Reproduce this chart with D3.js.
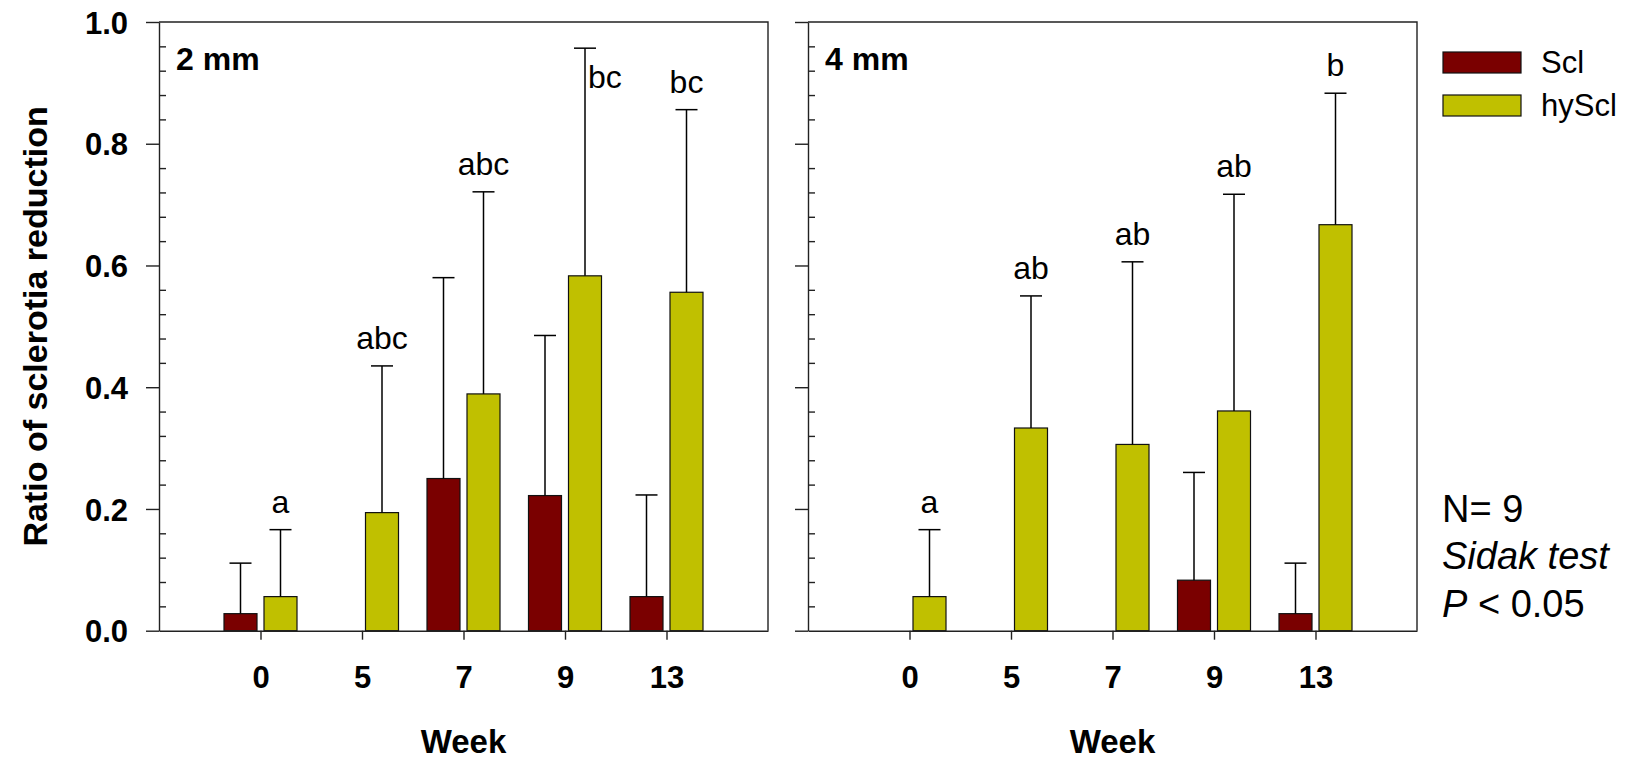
<!DOCTYPE html>
<html>
<head>
<meta charset="utf-8">
<script src="https://cdn.jsdelivr.net/npm/d3@7"></script>
<style>
  body { margin: 0; background: #fff; }
  svg text { font-family: Arial, "Liberation Sans", sans-serif; fill: #000; }
</style>
</head>
<body>
<script>
// categories and series
var weeks  = ['0', '5', '7', '9', '13'];
var series = ['Scl', 'hyScl'];

// 2 mm panel: means and upper error (mean + err = cap)
var scl2mm      = [0.028, null, 0.250, 0.222, 0.056];
var scl2mmErr   = [0.083, null, 0.330, 0.263, 0.167];
var hyScl2mm    = [0.056, 0.194, 0.389, 0.583, 0.556];
var hyScl2mmErr = [0.110, 0.241, 0.332, 0.374, 0.300];
var letters2mm  = ['a', 'abc', 'abc', 'bc', 'bc'];

// 4 mm panel
var scl4mm      = [null, null, null, 0.083, 0.028];
var scl4mmErr   = [null, null, null, 0.177, 0.083];
var hyScl4mm    = [0.056, 0.333, 0.306, 0.361, 0.667];
var hyScl4mmErr = [0.110, 0.217, 0.300, 0.356, 0.216];
var letters4mm  = ['a', 'ab', 'ab', 'ab', 'b'];

var yTicks = [0, 0.2, 0.4, 0.6, 0.8, 1.0];
var notes  = ['N= 9', 'Sidak test', 'P < 0.05'];

var COLORS = { Scl: '#7a0000', hyScl: '#c0c000' };

var WIDTH = 1648, HEIGHT = 760;
var TOP = 22, BOTTOM = 630.7, PANEL_W = 609;
var FONT_TICK = 31;

var panels = [
  { label: '2 mm', left: 159, scl: scl2mm, sclErr: scl2mmErr, hy: hyScl2mm, hyErr: hyScl2mmErr, letters: letters2mm, yLabels: true },
  { label: '4 mm', left: 808, scl: scl4mm, sclErr: scl4mmErr, hy: hyScl4mm, hyErr: hyScl4mmErr, letters: letters4mm, yLabels: false }
];

var svg = d3.select('body').append('svg')
  .attr('width', WIDTH)
  .attr('height', HEIGHT);

var y = d3.scaleLinear().domain([0, 1]).range([BOTTOM, TOP]);
var minorTicks = d3.range(0, 26).filter(function(i) { return i % 5 !== 0; })
                   .map(function(i) { return i * 0.04; });

panels.forEach(function(p) {
  var g = svg.append('g').attr('transform', 'translate(' + p.left + ',0)');

  var x = d3.scalePoint().domain(weeks).range([0, PANEL_W]).padding(1);
  var xs = d3.scaleBand().domain(series).range([-36.5, 36.5]).paddingInner(0.175);

  // bars
  var groups = g.selectAll('.grp')
    .data(weeks.map(function(w, i) {
      return { week: w, i: i, items: [
        { key: 'Scl', v: p.scl[i], e: p.sclErr[i] },
        { key: 'hyScl', v: p.hy[i], e: p.hyErr[i], letter: p.letters[i] }
      ].filter(function(d) { return d.v !== null; }) };
    }))
    .enter().append('g')
    .attr('transform', function(d) { return 'translate(' + x(d.week) + ',0)'; });

  var items = groups.selectAll('.item')
    .data(function(d) { return d.items; })
    .enter().append('g');

  items.append('rect')
    .attr('x', function(d) { return xs(d.key); })
    .attr('width', xs.bandwidth())
    .attr('y', function(d) { return y(d.v); })
    .attr('height', function(d) { return BOTTOM - y(d.v); })
    .attr('fill', function(d) { return COLORS[d.key]; })
    .attr('stroke', '#111')
    .attr('stroke-width', 1.2);

  // upper error whiskers
  var cx = function(d) { return xs(d.key) + xs.bandwidth() / 2; };
  items.append('line')
    .attr('x1', cx).attr('x2', cx)
    .attr('y1', function(d) { return y(d.v); })
    .attr('y2', function(d) { return y(d.v + d.e); })
    .attr('stroke', '#000').attr('stroke-width', 1.5);
  items.append('line')
    .attr('x1', function(d) { return cx(d) - 11; })
    .attr('x2', function(d) { return cx(d) + 11; })
    .attr('y1', function(d) { return y(d.v + d.e); })
    .attr('y2', function(d) { return y(d.v + d.e); })
    .attr('stroke', '#000').attr('stroke-width', 1.5);

  // significance letters: above the cap, or beside the whisker if no room
  items.filter(function(d) { return d.letter; })
    .append('text')
    .attr('font-size', 32)
    .each(function(d) {
      var cap = y(d.v + d.e);
      var t = d3.select(this).text(d.letter);
      if (cap - 17 - 24 < TOP) {
        t.attr('x', cx(d) + 3).attr('y', cap + 40).attr('text-anchor', 'start');
      } else {
        t.attr('x', cx(d)).attr('y', cap - 17).attr('text-anchor', 'middle');
      }
    });

  // frame: top and right
  g.append('path')
    .attr('d', 'M0,' + TOP + 'H' + PANEL_W + 'V' + BOTTOM)
    .attr('fill', 'none').attr('stroke', '#222').attr('stroke-width', 1.4);

  // y axis: major ticks outside, minor inside
  var yMajor = g.append('g')
    .call(d3.axisLeft(y).tickValues(yTicks).tickSize(13).tickSizeOuter(0)
      .tickPadding(18)
      .tickFormat(p.yLabels ? d3.format('.1f') : ''));
  var yMinor = g.append('g')
    .call(d3.axisLeft(y).tickValues(minorTicks).tickSize(-7).tickFormat(''));
  yMinor.select('.domain').remove();

  // x axis
  var xAxis = g.append('g')
    .attr('transform', 'translate(0,' + BOTTOM + ')')
    .call(d3.axisBottom(x).tickSize(9).tickSizeOuter(0).tickPadding(26));

  [yMajor, yMinor, xAxis].forEach(function(a) {
    a.selectAll('path, line').attr('stroke', '#222').attr('stroke-width', 1.4);
    a.selectAll('text')
      .attr('font-size', FONT_TICK)
      .attr('font-weight', 'bold')
      .attr('font-family', 'Arial, "Liberation Sans", sans-serif')
      .attr('fill', '#000');
  });
  yMajor.selectAll('text').attr('dy', '0.36em');

  // panel label
  g.append('text')
    .attr('x', 17).attr('y', 70)
    .attr('font-size', 32).attr('font-weight', 'bold')
    .text(p.label);

  // x title
  g.append('text')
    .attr('x', PANEL_W / 2).attr('y', 753)
    .attr('text-anchor', 'middle')
    .attr('font-size', 33).attr('font-weight', 'bold')
    .text('Week');
});

// y title
svg.append('text')
  .attr('transform', 'translate(47,' + ((TOP + BOTTOM) / 2) + ') rotate(-90)')
  .attr('text-anchor', 'middle')
  .attr('font-size', 34).attr('font-weight', 'bold')
  .text('Ratio of sclerotia reduction');

// legend
var legend = svg.append('g').attr('transform', 'translate(1443,52)');
var li = legend.selectAll('g').data(series).enter().append('g')
  .attr('transform', function(d, i) { return 'translate(0,' + (i * 43) + ')'; });
li.append('rect')
  .attr('width', 78).attr('height', 21)
  .attr('fill', function(d) { return COLORS[d]; })
  .attr('stroke', '#111').attr('stroke-width', 1.2);
li.append('text')
  .attr('x', 98).attr('y', 20.5)
  .attr('font-size', 31)
  .text(function(d) { return d; });

// statistics note
var note = svg.append('g').attr('transform', 'translate(1442,0)');
note.append('text').attr('y', 521.5).attr('font-size', 38).text(notes[0]);
note.append('text').attr('y', 569).attr('font-size', 38)
  .attr('font-style', 'italic').text(notes[1]);
var pTxt = note.append('text').attr('y', 616.5).attr('font-size', 38);
pTxt.append('tspan').attr('font-style', 'italic').text(notes[2].split(' ')[0]);
pTxt.append('tspan').text(' ' + notes[2].split(' ').slice(1).join(' '));
</script>
</body>
</html>
